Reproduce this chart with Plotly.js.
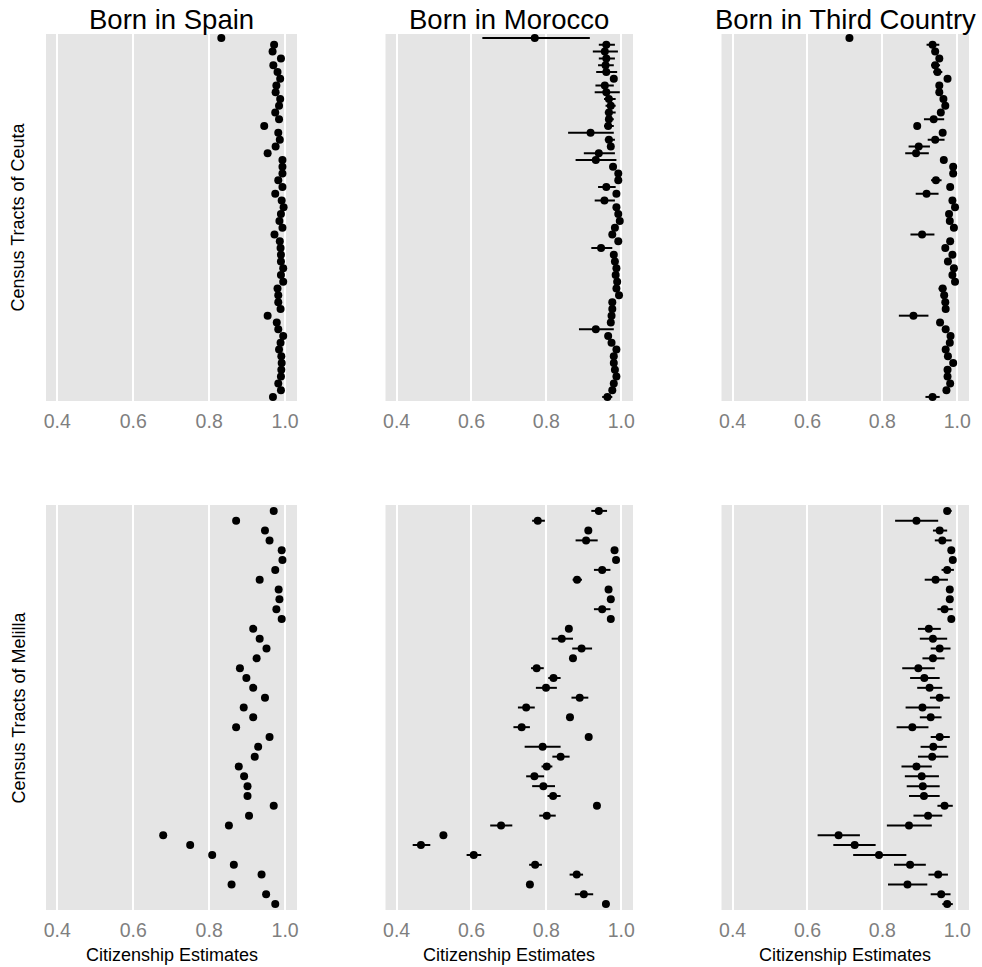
<!DOCTYPE html>
<html>
<head>
<meta charset="utf-8">
<script src="https://cdn.plot.ly/plotly-3.0.1.min.js"></script>
<style>html,body{margin:0;padding:0;background:#fff;}#chart{width:982px;height:967px;}</style>
</head>
<body>
<div id="chart"></div>
<script>
// ---------- DATA ----------
const columnTitles = ["Born in Spain", "Born in Morocco", "Born in Third Country"];
const rowTitles = ["Census Tracts of Ceuta", "Census Tracts of Melilla"];
const xTitle = "Citizenship Estimates";
const tickValues = [0.4, 0.6, 0.8, 1.0];
const tickLabels = ["0.4", "0.6", "0.8", "1.0"];

// Ceuta (54 tracts)
const ceutaSpain = [0.832,0.971,0.967,0.989,0.969,0.980,0.987,0.977,0.975,0.987,0.984,0.974,0.984,0.945,0.982,0.986,0.975,0.954,0.993,0.993,0.993,0.982,0.993,0.974,0.991,0.996,0.989,0.985,0.993,0.972,0.986,0.988,0.989,0.989,0.995,0.989,0.995,0.980,0.982,0.982,0.988,0.954,0.978,0.982,0.995,0.988,0.984,0.990,0.991,0.990,0.989,0.982,0.989,0.968];

const ceutaMorocco = [0.769,0.960,0.956,0.960,0.958,0.960,0.980,0.956,0.960,0.967,0.972,0.967,0.967,0.965,0.918,0.967,0.972,0.940,0.932,0.978,0.992,0.992,0.960,0.987,0.955,0.987,0.992,0.996,0.983,0.976,0.992,0.946,0.980,0.983,0.987,0.985,0.989,0.987,0.994,0.976,0.976,0.974,0.972,0.932,0.965,0.974,0.987,0.980,0.980,0.983,0.987,0.980,0.976,0.963];
const ceutaMoroccoLo = [0.629,0.940,0.924,0.940,0.938,0.933,0.974,0.931,0.929,0.954,0.958,0.956,0.958,0.954,0.858,0.956,0.966,0.900,0.878,0.972,0.987,0.987,0.938,0.981,0.929,0.981,0.987,0.991,0.977,0.970,0.987,0.920,0.974,0.977,0.981,0.979,0.983,0.981,0.989,0.968,0.968,0.966,0.966,0.887,0.956,0.968,0.981,0.974,0.974,0.977,0.981,0.974,0.970,0.949];
const ceutaMoroccoHi = [0.916,0.983,0.991,0.983,0.980,0.989,0.986,0.980,0.996,0.985,0.985,0.985,0.980,0.980,0.980,0.983,0.978,0.983,0.987,0.984,0.997,0.997,0.985,0.993,0.983,0.993,0.997,0.999,0.989,0.982,0.997,0.976,0.986,0.989,0.993,0.991,0.995,0.993,0.999,0.984,0.984,0.982,0.978,0.980,0.974,0.980,0.993,0.986,0.986,0.989,0.993,0.986,0.982,0.976];

const ceutaThird = [0.712,0.934,0.941,0.952,0.941,0.947,0.974,0.952,0.952,0.963,0.968,0.956,0.937,0.893,0.961,0.941,0.897,0.890,0.964,0.989,0.989,0.943,0.981,0.918,0.987,0.994,0.978,0.980,0.991,0.906,0.981,0.968,0.987,0.975,0.991,0.987,0.994,0.961,0.965,0.968,0.969,0.883,0.954,0.969,0.982,0.980,0.969,0.975,0.989,0.974,0.974,0.981,0.971,0.934];
const ceutaThirdLo = [0.706,0.918,0.932,0.945,0.930,0.936,0.968,0.945,0.946,0.957,0.962,0.950,0.911,0.887,0.955,0.921,0.870,0.861,0.958,0.984,0.984,0.930,0.975,0.889,0.981,0.989,0.972,0.974,0.986,0.875,0.975,0.962,0.981,0.969,0.986,0.981,0.989,0.950,0.959,0.962,0.963,0.844,0.947,0.963,0.976,0.974,0.963,0.969,0.984,0.968,0.968,0.975,0.965,0.915];
const ceutaThirdHi = [0.718,0.952,0.950,0.959,0.954,0.960,0.980,0.959,0.958,0.969,0.974,0.962,0.965,0.899,0.967,0.966,0.927,0.924,0.970,0.994,0.994,0.958,0.987,0.950,0.993,0.999,0.984,0.986,0.996,0.939,0.987,0.974,0.993,0.981,0.996,0.993,0.999,0.971,0.971,0.974,0.975,0.923,0.961,0.975,0.988,0.986,0.975,0.981,0.994,0.980,0.980,0.987,0.977,0.953];

// Melilla (41 tracts)
const melillaSpain = [0.970,0.871,0.947,0.959,0.991,0.993,0.974,0.933,0.983,0.985,0.977,0.991,0.916,0.933,0.951,0.925,0.881,0.898,0.916,0.947,0.891,0.916,0.871,0.959,0.929,0.920,0.878,0.892,0.901,0.901,0.970,0.905,0.852,0.679,0.750,0.808,0.865,0.938,0.859,0.950,0.974];

const melillaMorocco = [0.940,0.777,0.912,0.906,0.982,0.986,0.949,0.882,0.966,0.972,0.949,0.972,0.860,0.841,0.894,0.871,0.774,0.819,0.799,0.889,0.746,0.863,0.734,0.913,0.790,0.838,0.801,0.768,0.792,0.818,0.935,0.801,0.679,0.525,0.465,0.606,0.770,0.881,0.756,0.900,0.959];
const melillaMoroccoLo = [0.920,0.762,0.906,0.878,0.976,0.980,0.927,0.870,0.960,0.966,0.927,0.965,0.853,0.814,0.869,0.864,0.759,0.805,0.772,0.867,0.724,0.857,0.712,0.907,0.742,0.816,0.787,0.746,0.762,0.803,0.928,0.781,0.650,0.519,0.443,0.587,0.754,0.862,0.749,0.876,0.950];
const melillaMoroccoHi = [0.962,0.796,0.918,0.937,0.988,0.992,0.971,0.895,0.972,0.978,0.971,0.979,0.867,0.871,0.922,0.878,0.793,0.838,0.828,0.912,0.769,0.869,0.756,0.919,0.838,0.862,0.816,0.794,0.823,0.838,0.942,0.825,0.709,0.531,0.490,0.626,0.788,0.898,0.763,0.925,0.968];

const melillaThird = [0.973,0.891,0.953,0.960,0.984,0.988,0.973,0.942,0.980,0.980,0.966,0.984,0.924,0.935,0.953,0.935,0.896,0.912,0.926,0.953,0.907,0.929,0.880,0.953,0.936,0.933,0.891,0.905,0.908,0.911,0.966,0.922,0.871,0.683,0.726,0.791,0.874,0.949,0.867,0.957,0.973];
const melillaThirdLo = [0.964,0.834,0.935,0.940,0.978,0.982,0.958,0.913,0.974,0.974,0.947,0.978,0.895,0.900,0.929,0.907,0.853,0.874,0.893,0.927,0.862,0.900,0.838,0.929,0.902,0.895,0.851,0.860,0.865,0.871,0.947,0.883,0.812,0.627,0.669,0.722,0.831,0.923,0.815,0.929,0.960];
const melillaThirdHi = [0.985,0.949,0.973,0.985,0.990,0.994,0.991,0.975,0.986,0.986,0.988,0.990,0.956,0.973,0.982,0.966,0.940,0.953,0.960,0.980,0.954,0.958,0.923,0.980,0.972,0.976,0.932,0.951,0.953,0.953,0.988,0.960,0.932,0.740,0.782,0.864,0.916,0.975,0.920,0.982,0.988];

// ---------- LAYOUT GEOMETRY (pixels) ----------
const W = 982, H = 967;
const colPx = [[46, 297], [385.5, 633], [721.5, 969]];
const rowPx = [[34, 401], [505, 910]];
const xRange = [0.3704, 1.0313];
const fontFam = "Liberation Sans, Arial, Helvetica, sans-serif";

const panels = [
  {est: ceutaSpain},
  {est: ceutaMorocco, lo: ceutaMoroccoLo, hi: ceutaMoroccoHi},
  {est: ceutaThird, lo: ceutaThirdLo, hi: ceutaThirdHi},
  {est: melillaSpain},
  {est: melillaMorocco, lo: melillaMoroccoLo, hi: melillaMoroccoHi},
  {est: melillaThird, lo: melillaThirdLo, hi: melillaThirdHi}
];

const traces = [];
const layout = {
  width: W, height: H,
  margin: {l: 0, r: 0, t: 0, b: 0},
  paper_bgcolor: "#FFFFFF",
  plot_bgcolor: "#E5E5E5",
  showlegend: false,
  font: {family: fontFam},
  annotations: []
};

panels.forEach((p, i) => {
  const row = i < 3 ? 0 : 1;
  const col = i % 3;
  const sfx = i === 0 ? "" : String(i + 1);
  const n = p.est.length;
  const yIdx = p.est.map((_, k) => k);
  const tr = {
    type: "scatter", mode: "markers",
    x: p.est, y: yIdx,
    xaxis: "x" + sfx, yaxis: "y" + sfx,
    marker: {color: "#000000", size: 8},
    hoverinfo: "x",
    cliponaxis: false
  };
  if (p.lo) {
    tr.error_x = {
      type: "data", symmetric: false,
      array: p.hi.map((h, k) => h - p.est[k]),
      arrayminus: p.lo.map((l, k) => p.est[k] - l),
      color: "#000000", thickness: 2, width: 0
    };
  }
  traces.push(tr);

  layout["xaxis" + sfx] = {
    domain: [colPx[col][0] / W, colPx[col][1] / W],
    anchor: "y" + sfx,
    range: xRange,
    tickmode: "array", tickvals: tickValues, ticktext: tickLabels,
    ticks: "", showline: false, zeroline: false,
    showgrid: true, gridcolor: "#FFFFFF", gridwidth: 2,
    tickfont: {size: 19.5, color: "#7F7F7F", family: fontFam},
    ticklabelstandoff: 6,
    fixedrange: true
  };
  layout["yaxis" + sfx] = {
    domain: [1 - rowPx[row][1] / H, 1 - rowPx[row][0] / H],
    anchor: "x" + sfx,
    range: [n - 1 + 0.6, -0.6],
    showticklabels: false, ticks: "", showgrid: false,
    zeroline: false, showline: false, fixedrange: true
  };
});

// column titles
columnTitles.forEach((t, c) => {
  layout.annotations.push({
    text: t, xref: "paper", yref: "paper",
    x: (colPx[c][0] + colPx[c][1]) / 2 / W, y: 1 - 19 / H,
    xanchor: "center", yanchor: "middle", showarrow: false,
    font: {size: 27.5, color: "#000000", family: fontFam}
  });
});
// row titles
rowTitles.forEach((t, r) => {
  layout.annotations.push({
    text: t, xref: "paper", yref: "paper",
    x: 18 / W, y: 1 - (rowPx[r][0] + rowPx[r][1]) / 2 / H,
    xanchor: "center", yanchor: "middle", textangle: -90, showarrow: false,
    font: {size: 18, color: "#000000", family: fontFam}
  });
});
// x titles for bottom row
for (let c = 0; c < 3; c++) {
  layout.annotations.push({
    text: xTitle, xref: "paper", yref: "paper",
    x: (colPx[c][0] + colPx[c][1]) / 2 / W, y: 1 - 955 / H,
    xanchor: "center", yanchor: "middle", showarrow: false,
    font: {size: 18, color: "#000000", family: fontFam}
  });
}

Plotly.newPlot("chart", traces, layout, {displayModeBar: false, staticPlot: true});
</script>
</body>
</html>
